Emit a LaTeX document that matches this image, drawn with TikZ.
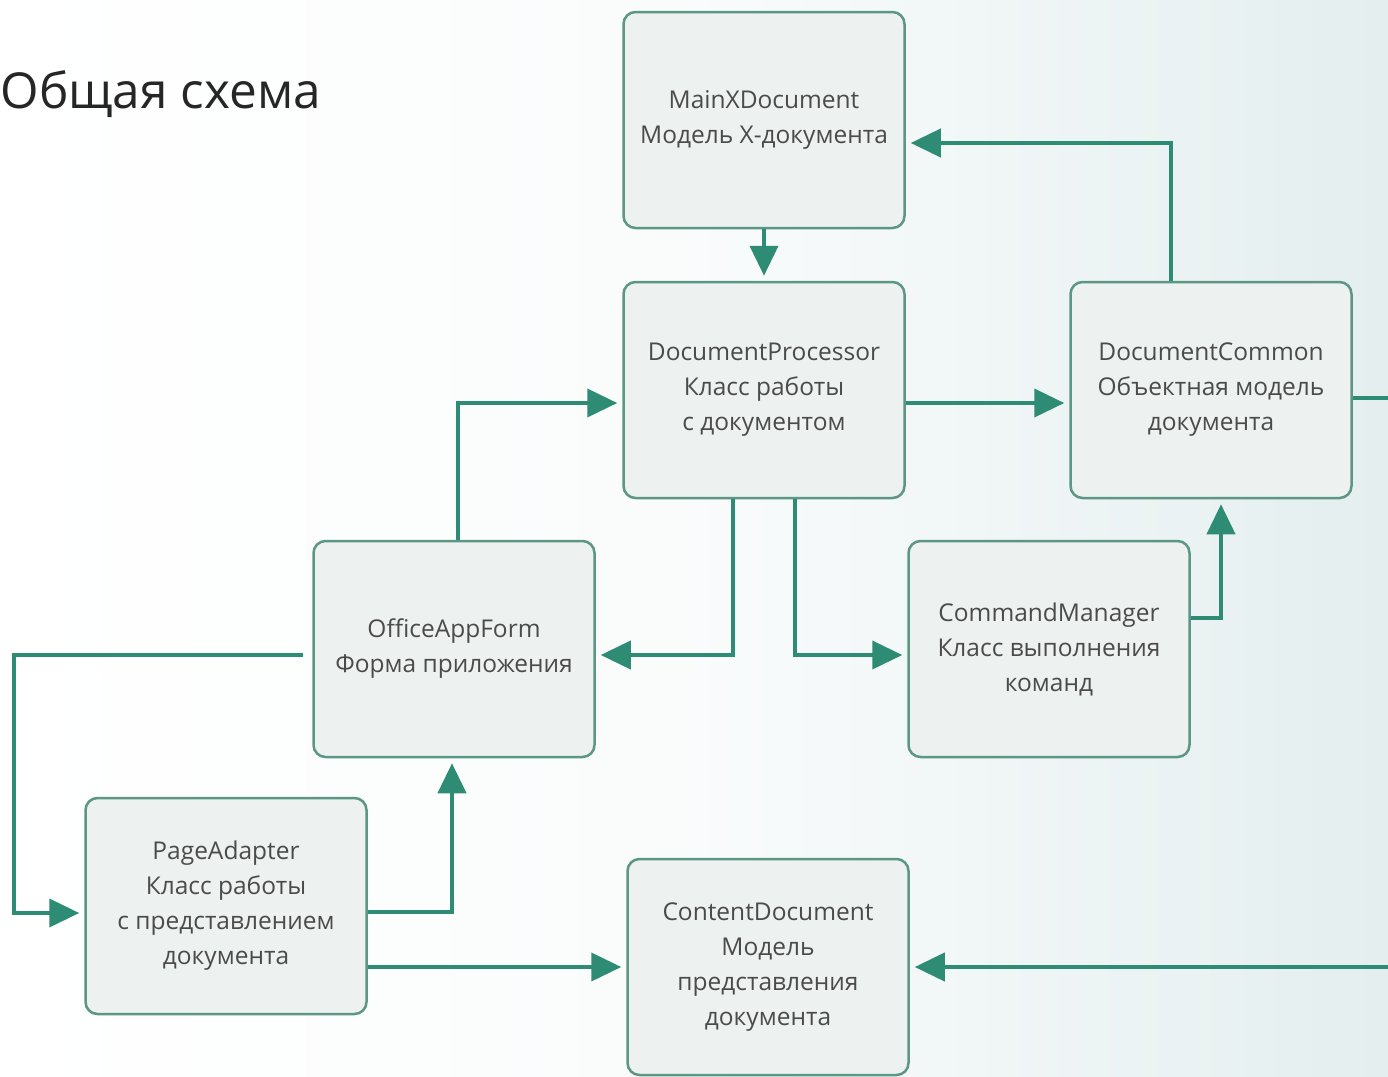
\documentclass[tikz,border=0pt]{standalone}
\usepackage{fontspec}
\setmainfont{Open Sans}
\usepackage{tikz}
\usetikzlibrary{positioning}
\usetikzlibrary{arrows.meta}
\usetikzlibrary{calc}

\definecolor{linkgreen}{RGB}{46,139,116}
\definecolor{boxline}{RGB}{92,150,132}
\definecolor{boxfill}{RGB}{237,241,240}
\definecolor{bgtint}{RGB}{228,238,239}
\definecolor{boxtext}{RGB}{75,75,75}

\tikzset{
  block/.style={draw=boxline, line width=2.5pt, fill=boxfill, rounded corners=12pt,
    minimum width=281pt, minimum height=216pt, align=center, text=boxtext,
    font=\fontsize{24.5}{35}\selectfont},
  link/.style={draw=linkgreen, line width=4pt,
    -{Triangle[width=28pt,length=30pt]}, shorten >=5pt},
  wire/.style={draw=linkgreen, line width=4pt}
}

\begin{document}
\begin{tikzpicture}[x=1pt,y=-1pt,node distance=270pt,on grid]

  % background
  \shade[left color=white, right color=bgtint, middle color=white!80!bgtint]
    (0,0) rectangle (1388,1076);
  \useasboundingbox (0,0) rectangle (1388,1076);

  \node[anchor=base west, font=\fontsize{49.5}{56}\selectfont, text=black!85]
    (title) at (-3,108) {Общая схема};

  \node[block]  (main)                         at (764,120) {MainXDocument\\Модель X-документа};
  \node[block]  (proc)    [below=270pt of main]              {DocumentProcessor\\Класс работы\\с документом};
  \node[block]  (common)  [right=447pt of proc]              {DocumentCommon\\Объектная модель\\документа};
  \node[block]  (form)                         at (454,649) {OfficeAppForm\\Форма приложения};
  \node[block]  (cmd)                          at (1049,649) {CommandManager\\Класс выполнения\\команд};
  \node[block]  (page)                         at (226,906) {PageAdapter\\Класс работы\\с представлением\\документа};
  \node[block]  (content)                      at (768,967) {ContentDocument\\Модель\\представления\\документа};

  \coordinate (outA) at (1388,398);
  \coordinate (outB) at (1388,967);

  \draw[link] ([xshift=-40pt]common.north) |- ([yshift=-23pt]main.east);
  \draw[link] (main) -- (proc);
  \draw[link] ([yshift=-13pt]proc.east) -- ([yshift=-13pt]common.west);
  \draw[link] ([xshift=4pt]form.north) |- ([yshift=-13pt]proc.west);
  \draw[link] ([xshift=-31pt]proc.south) |- ([yshift=-6pt]form.east);
  \draw[link] ([xshift=31pt]proc.south) |- ([yshift=-6pt]cmd.west);
  \draw[link] ([yshift=31pt]cmd.east) -| ([xshift=10pt]common.south);
  \draw[wire] ([yshift=-8pt]common.east) -- (outA);
  \draw[link] (outB) -- (content.east);
  \draw[link] ([xshift=-9pt,yshift=-6pt]form.west) -- ++(-289,0) |- ([yshift=-7pt]page.west);
  \draw[link] ([yshift=-6pt]page.east) -| ([xshift=-2pt]form.south);
  \draw[link] (page.east |- content.west) -- (content.west);
\end{tikzpicture}
\end{document}
